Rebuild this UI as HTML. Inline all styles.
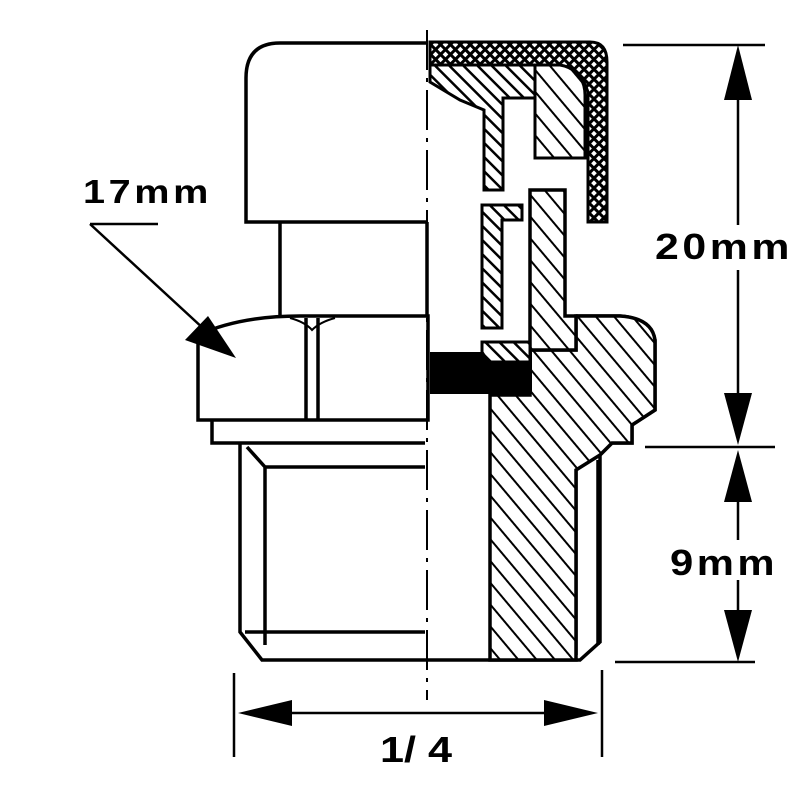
<!DOCTYPE html>
<html><head><meta charset="utf-8"><style>html,body{margin:0;padding:0;background:#fff}svg{display:block}
text{font-family:"Liberation Sans",sans-serif;font-weight:bold;fill:#000}</style></head>
<body>
<svg width="800" height="800" viewBox="0 0 800 800" xmlns="http://www.w3.org/2000/svg">
<defs>
<pattern id="h" width="10" height="10" patternUnits="userSpaceOnUse" patternTransform="rotate(-45)">
<rect width="10" height="10" fill="#fff"/><rect width="2.5" height="10" fill="#000"/></pattern>
<pattern id="h2" width="14" height="14" patternUnits="userSpaceOnUse" patternTransform="rotate(-40)">
<rect width="14" height="14" fill="#fff"/><rect width="2" height="14" fill="#000"/></pattern>
<pattern id="x" width="7" height="7" patternUnits="userSpaceOnUse" patternTransform="rotate(45)">
<rect width="7" height="7" fill="#000"/><rect x="1.5" y="1.5" width="4" height="4" fill="#fff"/></pattern>
</defs>
<g fill="none" stroke="#000" stroke-width="3.5">
<path d="M427 43 H280 Q246 43 246 78 V222 H427"/>
<path d="M280 222 V316 M427 222 V316"/>
<path d="M198 335 Q240 316 300 316 H428 V420 H198 Z"/>
<path d="M306 318 V420 M318 318 V420"/>
<path d="M290 318 Q305 322 312 330 Q320 322 335 318" stroke-width="2"/>
<path d="M212 420 V443 H425"/>
<path d="M240 443 V632 L262 660 H580 L600 642 V455 L612 443 H632 V425 L655 410 V340 Q650 318 620 316 H576"/>
<path d="M247 447 L265 467 V645 M265 467 H425 M245 632 H425"/>
<path d="M576 470 V655 M598 460 V645"/>
</g>
<path d="M427 30 V700" stroke="#000" stroke-width="2" stroke-dasharray="40 8 4 8"/>
<path d="M490 395 H530 V350 L576 350 V316 H620 Q652 318 655 340 V410 L632 425 V443 H612 L600 455 L576 470 V660 H490 Z" fill="url(#h2)" stroke="#000" stroke-width="3.5"/>
<path d="M530 350 V190 H565 V316 H576 V350 Z" fill="url(#h2)" stroke="#000" stroke-width="3.5"/>
<rect x="430" y="352" width="102" height="42" fill="#000"/>
<path d="M482 342 H530 V362 H488 L482 352 Z" fill="url(#h)" stroke="#000" stroke-width="3"/>
<path d="M482 205 H522 V220 H502 V328 H482 Z" fill="url(#h)" stroke="#000" stroke-width="3"/>
<path d="M430 48 H540 L535 98 H503 V190 H484 V110 L460 100 L430 82 Z" fill="url(#h)" stroke="#000" stroke-width="3"/>
<path d="M535 62 H565 Q585 75 585 95 V158 H535 Z" fill="url(#h2)" stroke="#000" stroke-width="3"/>
<path d="M430 42 H590 Q607 42 607 62 V222 H588 V92 Q580 68 560 65 H430 Z" fill="url(#x)" stroke="#000" stroke-width="3"/>
<g stroke="#000" stroke-width="2.5" fill="none">
<path d="M623 45 H765 M645 447 H775 M615 662 H755"/>
<path d="M738 100 V225 M738 270 V395 M738 500 V540 M738 580 V612"/>
<path d="M234 673 V757 M602 670 V757 M290 713 H548"/>
<path d="M90 224 H158 M90 224 L205 330"/>
</g>
<g fill="#000">
<polygon points="738,45 724,100 752,100"/>
<polygon points="738,445 724,393 752,393"/>
<polygon points="738,450 724,502 752,502"/>
<polygon points="738,662 724,610 752,610"/>
<polygon points="238,713 292,700 292,726"/>
<polygon points="598,713 544,700 544,726"/>
<polygon points="236,358 185,340 208,316"/>
</g>
<text x="655" y="259" font-size="36" letter-spacing="3" textLength="138" lengthAdjust="spacingAndGlyphs">20mm</text>
<text x="670" y="575" font-size="36" letter-spacing="3" textLength="108" lengthAdjust="spacingAndGlyphs">9mm</text>
<text x="83" y="203" font-size="33" letter-spacing="3" textLength="129" lengthAdjust="spacingAndGlyphs">17mm</text>
<text x="380" y="762" font-size="36" textLength="72" lengthAdjust="spacingAndGlyphs">1/ 4</text>
</svg>
</body></html>
